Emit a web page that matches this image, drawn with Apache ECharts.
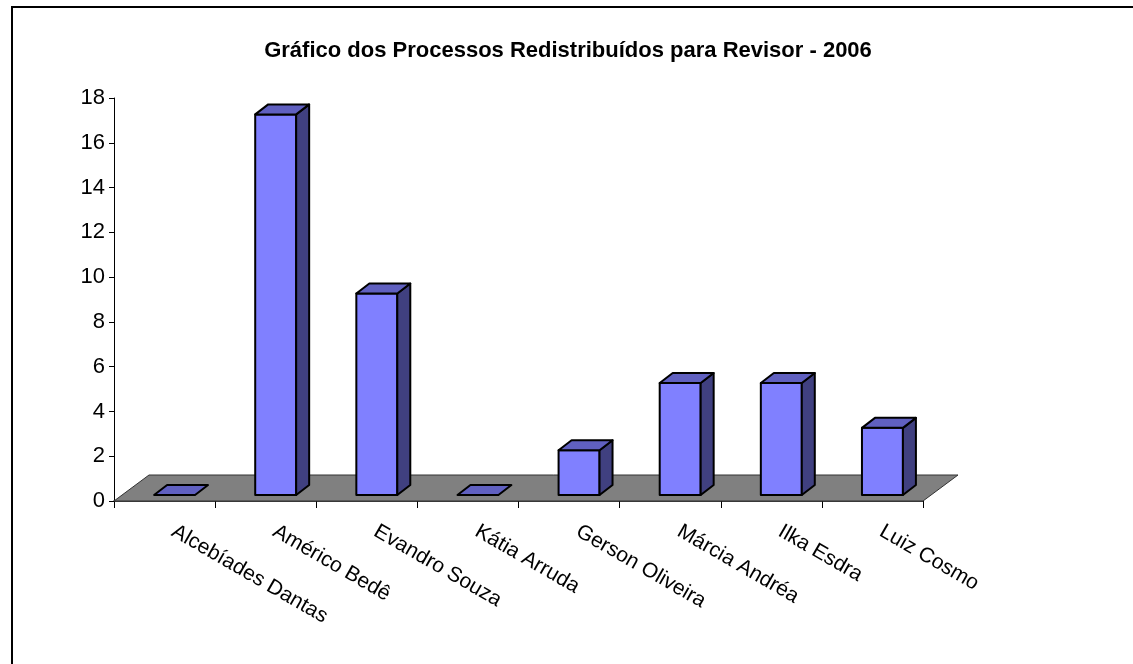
<!DOCTYPE html>
<html>
<head>
<meta charset="utf-8">
<script src="https://cdn.jsdelivr.net/npm/echarts@6/dist/echarts.min.js"></script>
<style>
  html, body { margin: 0; padding: 0; background: #fff; }
  #chart { width: 1133px; height: 664px; }
</style>
</head>
<body>
<div id="chart"></div>
<script>
// dados do gráfico
var categorias = ['Alcebíades Dantas', 'Américo Bedê', 'Evandro Souza', 'Kátia Arruda',
                  'Gerson Oliveira', 'Márcia Andréa', 'Ilka Esdra', 'Luiz Cosmo'];
var processos = [0, 17, 9, 0, 2, 5, 5, 3];
var titulo = 'Gráfico dos Processos Redistribuídos para Revisor - 2006';

// deslocamentos do efeito 3D
var piso = { dx: 35, dy: -26 };     // profundidade do piso
var face = { dx: 10, dy: -6 };      // face frontal da barra dentro do piso
var lado = { dx: 13, dy: -10 };     // profundidade da barra

var myChart = echarts.init(document.getElementById('chart'));

function renderPiso(params, api) {
    var p0 = api.coord([0, 0]);
    var band = api.size([1, 0])[0];
    var x0 = p0[0] - band / 2;
    var x1 = x0 + band * categorias.length;
    var y = p0[1];
    return {
        type: 'polygon',
        shape: { points: [[x0, y], [x1, y], [x1 + piso.dx, y + piso.dy], [x0 + piso.dx, y + piso.dy]] },
        style: { fill: '#808080', stroke: '#333', lineWidth: 1 }
    };
}

function renderBarra(params, api) {
    var idx = api.value(0);
    var val = api.value(1);
    var base = api.coord([idx, 0]);
    var topo = api.coord([idx, val]);
    var band = api.size([1, 0])[0];
    var w = band * 0.405;
    var xl = base[0] - w / 2 + face.dx;
    var xr = xl + w;
    var yb = base[1] + face.dy;
    var yt = topo[1] + face.dy;
    var borda = { stroke: '#000', lineWidth: 2, lineJoin: 'round' };
    var filhos = [];
    if (val > 0) {
        filhos.push({
            type: 'polygon',
            shape: { points: [[xl, yb], [xr, yb], [xr, yt], [xl, yt]] },
            style: Object.assign({ fill: '#8080FF' }, borda)
        });
        filhos.push({
            type: 'polygon',
            shape: { points: [[xr, yb], [xr + lado.dx, yb + lado.dy], [xr + lado.dx, yt + lado.dy], [xr, yt]] },
            style: Object.assign({ fill: '#404080' }, borda)
        });
    }
    filhos.push({
        type: 'polygon',
        shape: { points: [[xl, yt], [xr, yt], [xr + lado.dx, yt + lado.dy], [xl + lado.dx, yt + lado.dy]] },
        style: Object.assign({ fill: '#6060C0' }, borda)
    });
    return { type: 'group', children: filhos };
}

myChart.setOption({
    animation: false,
    backgroundColor: '#fff',
    title: {
        text: titulo,
        left: 563,
        textAlign: 'center',
        top: 35,
        textStyle: { fontFamily: 'Liberation Sans', fontSize: 22, fontWeight: 'bold', color: '#000' }
    },
    graphic: [
        { type: 'polyline', shape: { points: [[12, 664], [12, 7], [1133, 7]] }, style: { stroke: '#000', lineWidth: 2, fill: null }, z: 100 }
    ],
    grid: { left: 114, right: 210, top: 98, bottom: 163 },
    xAxis: {
        type: 'category',
        data: categorias,
        axisLine: { show: true, lineStyle: { color: '#000', width: 1.5 } },
        axisTick: { show: true, length: 7, lineStyle: { color: '#000' } },
        axisLabel: {
            interval: 0,
            rotate: -30,
            margin: 24,
            padding: [0, 0, 0, 10],
            fontFamily: 'Liberation Sans',
            fontSize: 21,
            color: '#000'
        }
    },
    yAxis: {
        type: 'value',
        min: 0,
        max: 18,
        interval: 2,
        splitLine: { show: false },
        axisLine: { show: true, lineStyle: { color: '#000', width: 1 } },
        axisTick: { show: true, inside: false, length: 5, lineStyle: { color: '#000' } },
        axisLabel: { margin: 9, fontFamily: 'Liberation Sans', fontSize: 22, color: '#000' }
    },
    series: [
        {
            type: 'custom',
            name: 'piso',
            renderItem: renderPiso,
            data: [[0, 0]],
            z: 1,
            silent: true
        },
        {
            type: 'custom',
            name: 'Processos',
            renderItem: renderBarra,
            encode: { x: 0, y: 1 },
            data: processos.map(function (v, i) { return [i, v]; }),
            z: 3
        }
    ]
});
</script>
</body>
</html>
